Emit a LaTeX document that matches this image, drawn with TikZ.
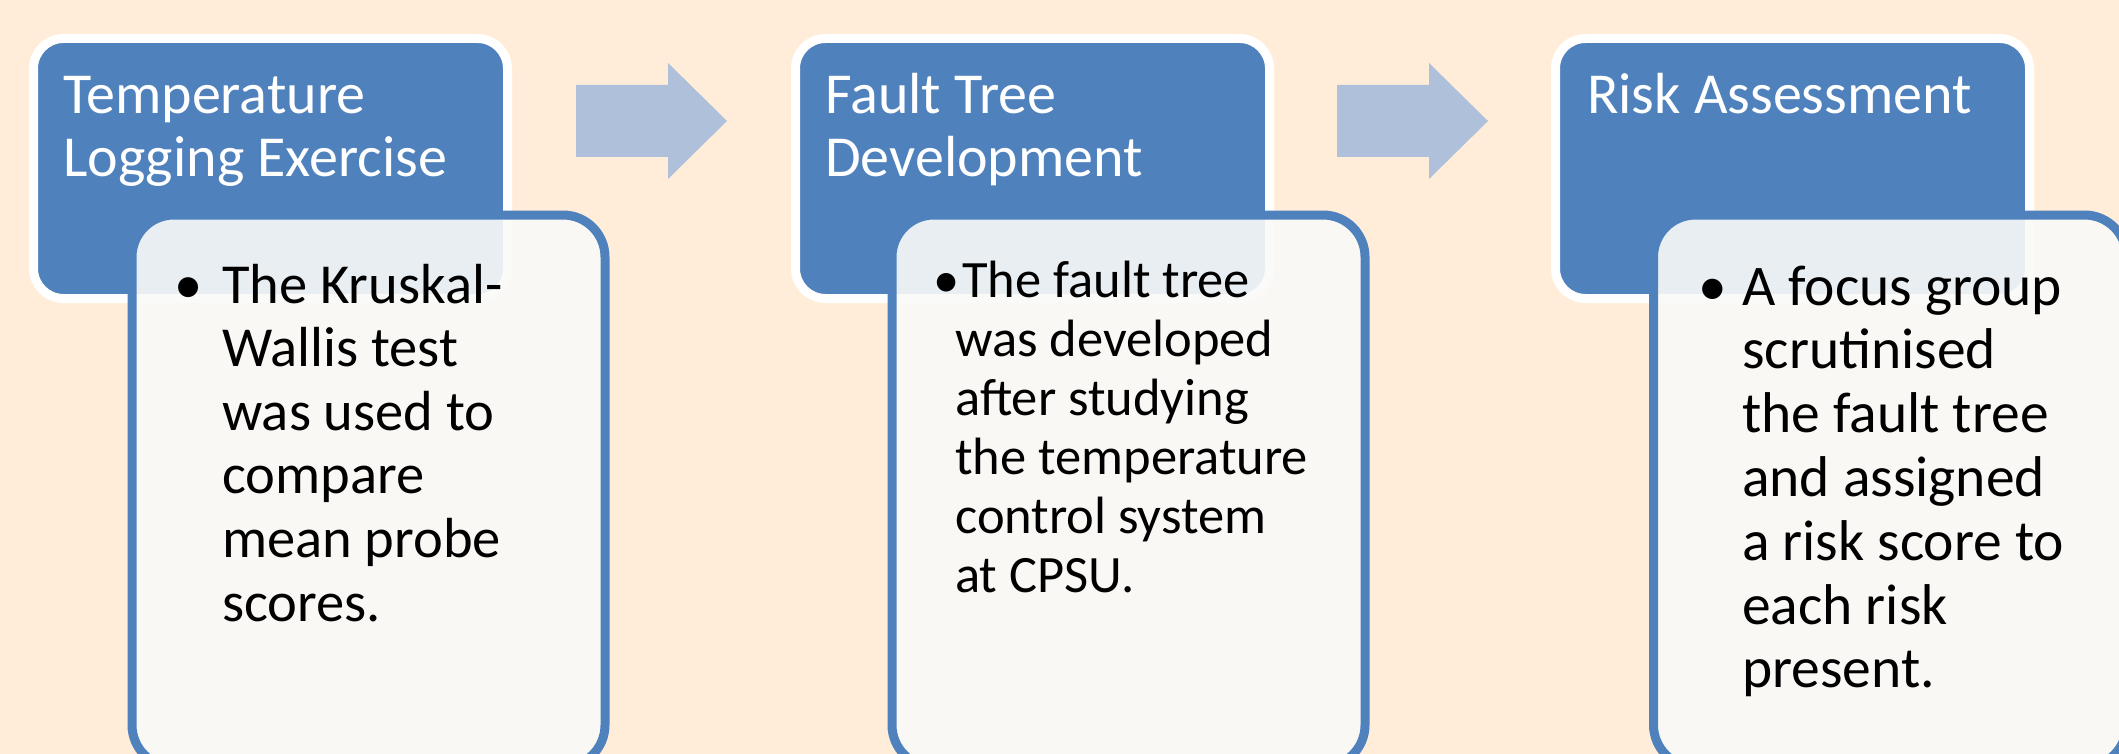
\documentclass[tikz,border=0pt]{standalone}
\usepackage{fontspec}
\setmainfont{Carlito}
\definecolor{bg}{HTML}{FFEDD9}
\definecolor{accent}{HTML}{4F81BD}
\definecolor{arrowc}{HTML}{AFC0DB}
\definecolor{panel}{HTML}{FAFAF8}
\begin{document}
\begin{tikzpicture}[x=1pt,y=-1pt,
  titlebox/.style={draw=white, line width=9pt, fill=accent, rounded corners=30pt,
    minimum width=474pt, minimum height=260pt, anchor=north west, inner sep=0pt},
  detailbox/.style={draw=accent, line width=9pt, fill=panel, fill opacity=0.9, draw opacity=1,
    rounded corners=42pt, minimum width=473pt, minimum height=552pt, anchor=north west, inner sep=0pt},
  titletext/.style={text=white, font=\fontsize{58}{63}\selectfont, align=left, anchor=base west, inner sep=0pt},
  bodyone/.style={text=black, font=\fontsize{56.5}{63.6}\selectfont, align=left, anchor=base west, inner sep=0pt},
  bodytwo/.style={text=black, font=\fontsize{52.5}{59}\selectfont, align=left, anchor=base west, inner sep=0pt},
  bodythree/.style={text=black, font=\fontsize{57.5}{63.8}\selectfont, align=left, anchor=base west, inner sep=0pt},
  flowarrow/.style={fill=arrowc, draw=none}
]
\useasboundingbox (0,0) rectangle (2119,754);
\clip (0,0) rectangle (2119,754);
\fill[bg] (0,0) rectangle (2119,754);

% Step 1 (multi-line nodes are anchored at the baseline of their last line)
\node[titlebox] (t1) at (29,34) {};
\node[titletext] (t1txt) at (63,177) {Temperature\\Logging Exercise};
\node[detailbox] (d1) at (127.5,210.5) {};
\node[bodyone] (d1bul) at (174,303) {•};
\node[bodyone] (d1txt) at (222,621) {The Kruskal-\\Wallis test\\was used to\\compare\\mean probe\\scores.};

% Arrow 1
\coordinate (a1) at (576,121);
\fill[flowarrow] (a1) ++(0,-36) -- ++(92,0) -- ++(0,-22) -- ++(59,58) -- ++(-59,58) -- ++(0,-22) -- ++(-92,0) -- cycle;

% Step 2
\node[titlebox] (t2) at (791,34) {};
\node[titletext] (t2txt) at (825,177) {Fault Tree\\Development};
\node[detailbox] (d2) at (887.5,210.5) {};
\node[bodytwo] (d2bul) at (933,297) {•};
\node[bodytwo] (d2txt) at (955,592) {\hspace{7pt}The fault tree\\was developed\\after studying\\the temperature\\control system\\at CPSU.};

% Arrow 2
\coordinate (a2) at (1337,121);
\fill[flowarrow] (a2) ++(0,-36) -- ++(92,0) -- ++(0,-22) -- ++(59,58) -- ++(-59,58) -- ++(0,-22) -- ++(-92,0) -- cycle;

% Step 3
\node[titlebox] (t3) at (1551,34) {};
\node[titletext] (t3txt) at (1587,114) {Risk Assessment};
\node[detailbox] (d3) at (1649,210.5) {};
\node[bodythree] (d3bul) at (1698,305) {•};
\node[bodythree] (d3txt) at (1742,687.8) {A focus group\\scrutinised\\the fault tree\\and assigned\\a risk score to\\each risk\\present.};
\end{tikzpicture}
\end{document}
